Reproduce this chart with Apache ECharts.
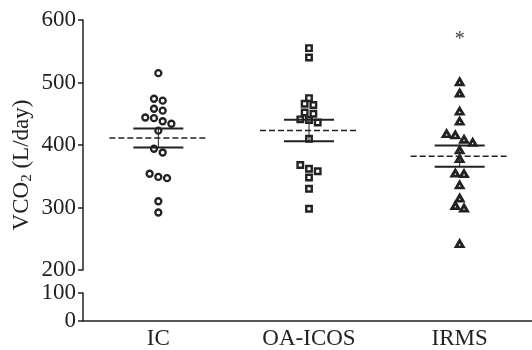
<!DOCTYPE html>
<html>
<head>
<meta charset="utf-8">
<script src="https://cdn.jsdelivr.net/npm/echarts@6/dist/echarts.min.js"></script>
<style>
  html, body { margin: 0; padding: 0; background: #fff; }
  #scatterEch { width: 532px; height: 350px; }
</style>
</head>
<body>
<div id="scatterEch"></div>
<script>
// categories and values (L/day)
const groups = ['IC', 'OA-ICOS', 'IRMS']
const icValues = [515, 474, 471, 458, 455, 444, 443, 438, 434, 423, 394, 388, 354, 349, 347, 310, 292]
const oaIcosValues = [555, 540, 475, 466, 464, 452, 450, 441, 440, 436, 410, 368, 362, 358, 348, 330, 298]
const irmsValues = [501, 483, 454, 438, 418, 416, 409, 404, 392, 378, 355, 354, 336, 315, 303, 299, 242]
const significance = ['', '', '*']
const upperRange = [200, 600]
const lowerRange = [0, 100]
const tickStep = 100

const groupValues = [icValues, oaIcosValues, irmsValues]
const symbols = ['circle', 'rect', 'triangle']
const symbolSizes = [6, 5.5, [7, 6]]
const borderWidths = [2.3, 2.4, 2.8]
const serif = 'Liberation Serif'
const ink = '#222'

const upperGrid = { left: 83, top: 20, width: 452, height: 250 }
const lowerGrid = { left: 83, top: 293, width: 452, height: 28 }
const spread = 8.7 // px between neighbours in a row

// GraphPad-like column scatter: close values share a row, spread symmetrically
function swarm(values, index) {
  const pxY = upperGrid.height / (upperRange[1] - upperRange[0])
  const pxX = upperGrid.width / groups.length
  const sorted = values.slice().sort((a, b) => b - a)
  const rows = []
  let row = []
  sorted.forEach((v) => {
    if (row.length && ((row[row.length - 1] - v) * pxY > 4.5 || (row[0] - v) * pxY > 9)) {
      rows.push(row)
      row = []
    }
    row.push(v)
  })
  rows.push(row)
  const points = []
  rows.forEach((r) => {
    r.forEach((v, k) => {
      const dx = (k - (r.length - 1) / 2) * spread
      points.push([index + dx / pxX, v])
    })
  })
  return points
}

function meanSem(values) {
  const n = values.length
  const mean = values.reduce((s, v) => s + v, 0) / n
  const sd = Math.sqrt(values.reduce((s, v) => s + (v - mean) * (v - mean), 0) / (n - 1))
  return [mean, sd / Math.sqrt(n)]
}

const chart = echarts.init(document.getElementById('scatterEch'))

const yAxisBase = {
  type: 'value',
  interval: tickStep,
  axisLine: { show: true, onZero: false, lineStyle: { color: ink, width: 1.5 } },
  axisTick: { show: true, length: 5, lineStyle: { color: ink, width: 1.5 } },
  axisLabel: { margin: 7, fontSize: 23, fontFamily: serif, color: ink },
  splitLine: { show: false }
}

const scatterSeries = groupValues.map((vals, i) => ({
  name: groups[i],
  type: 'scatter',
  xAxisIndex: 0,
  yAxisIndex: 0,
  symbol: symbols[i],
  symbolSize: symbolSizes[i],
  itemStyle: { color: '#fff', borderColor: ink, borderWidth: borderWidths[i], opacity: 1 },
  emphasis: { disabled: true },
  z: 2,
  data: swarm(vals, i)
}))

const summary = groupValues.map((vals, i) => [i].concat(meanSem(vals)))

chart.setOption({
  animation: false,
  grid: [
    Object.assign({ outerBoundsMode: 'none' }, upperGrid),
    Object.assign({ outerBoundsMode: 'none' }, lowerGrid)
  ],
  xAxis: [
    { gridIndex: 0, type: 'value', min: -0.5, max: groups.length - 0.5, show: false },
    {
      gridIndex: 1,
      type: 'category',
      data: groups,
      axisLine: { onZero: false, lineStyle: { color: ink, width: 1.5 } },
      axisTick: { alignWithLabel: true, length: 4, lineStyle: { color: ink, width: 1.5 } },
      axisLabel: { margin: 6, fontSize: 23, fontFamily: serif, color: ink }
    }
  ],
  yAxis: [
    Object.assign({ gridIndex: 0, min: upperRange[0], max: upperRange[1] }, yAxisBase),
    Object.assign({ gridIndex: 1, min: lowerRange[0], max: lowerRange[1] }, yAxisBase)
  ],
  graphic: [
    {
      type: 'text',
      x: 22,
      y: 165,
      rotation: Math.PI / 2,
      style: {
        text: '{a|VCO}{b|2}{a| (L/day)}',
        align: 'center',
        verticalAlign: 'middle',
        rich: {
          a: { fontSize: 23, fontFamily: serif, fill: ink, lineHeight: 26 },
          b: { fontSize: 15, fontFamily: serif, fill: ink, lineHeight: 10, verticalAlign: 'bottom' }
        }
      }
    }
  ],
  series: scatterSeries.concat([
    {
      type: 'custom',
      xAxisIndex: 0,
      yAxisIndex: 0,
      z: 3,
      silent: true,
      data: summary,
      renderItem(params, api) {
        const i = api.value(0)
        const mean = api.value(1)
        const sem = api.value(2)
        const c = api.coord([i, mean])
        const hi = api.coord([i, mean + sem])[1]
        const lo = api.coord([i, mean - sem])[1]
        const children = [
          { type: 'line', shape: { x1: c[0] - 49, y1: c[1], x2: c[0] + 49, y2: c[1] }, style: { stroke: ink, lineWidth: 1.5, lineDash: [6, 3] } },
          { type: 'line', shape: { x1: c[0] - 25, y1: hi, x2: c[0] + 25, y2: hi }, style: { stroke: ink, lineWidth: 2 } },
          { type: 'line', shape: { x1: c[0] - 25, y1: lo, x2: c[0] + 25, y2: lo }, style: { stroke: ink, lineWidth: 2 } },
          { type: 'line', shape: { x1: c[0], y1: hi, x2: c[0], y2: lo }, style: { stroke: ink, lineWidth: 1 } }
        ]
        if (significance[i]) {
          const topY = api.coord([i, upperRange[1]])[1]
          children.push({
            type: 'text',
            style: { text: significance[i], x: c[0], y: topY + 20, align: 'center', verticalAlign: 'middle', fontSize: 20, fontFamily: serif, fill: '#444' }
          })
        }
        return { type: 'group', children }
      }
    }
  ])
})
</script>
</body>
</html>
